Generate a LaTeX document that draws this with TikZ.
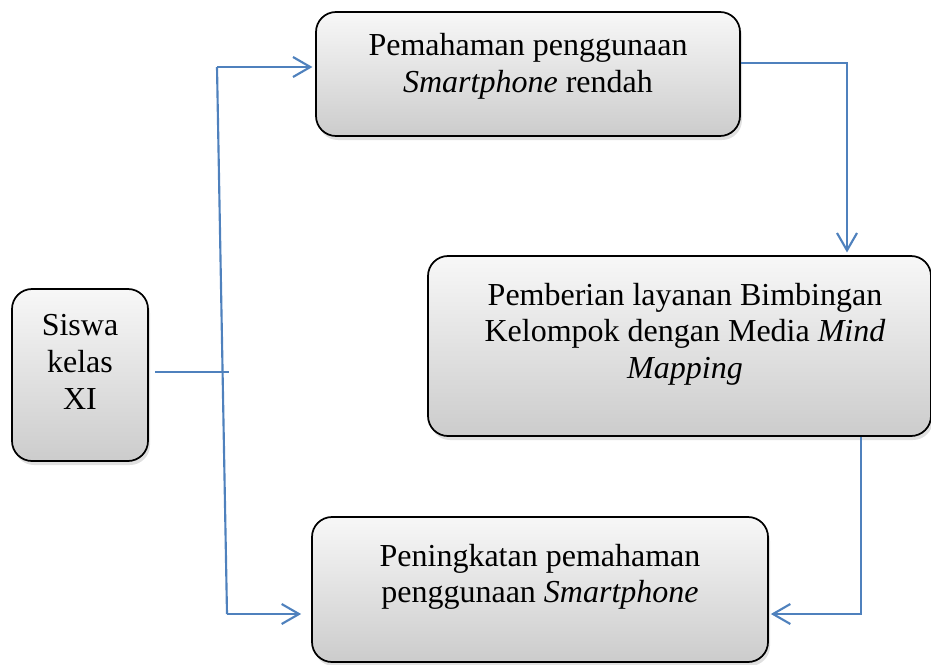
\documentclass[tikz,border=0pt]{standalone}
\usepackage{fontspec}
\setmainfont{Liberation Serif}
\usetikzlibrary{arrows.meta,shadows}
\definecolor{lineblue}{RGB}{79,129,189}
\tikzset{
  box/.style={draw=black, line width=1.3pt, rounded corners=15pt, inner sep=0pt,
    top color=gray!6, bottom color=gray!40,
    drop shadow={shadow xshift=1.5pt, shadow yshift=-3pt, opacity=0.35, fill=gray!70}},
  txt/.style={align=center, inner sep=0pt, font=\fontsize{24}{27.5}\selectfont},
  conn/.style={draw=lineblue, line width=1.6pt},
  arr/.style={conn, -{Straight Barb[length=13pt,width=15pt,line width=1.6pt]}}
}
\begin{document}
\begin{tikzpicture}[x=0.75pt,y=-0.75pt]
\useasboundingbox (0,0) rectangle (931,664);
\clip (0,0) rectangle (931,664);
% boxes
\node[box, minimum width=102pt, minimum height=129pt] (siswa) at (80,375) {};
\node[box, minimum width=318pt, minimum height=93pt] (top) at (528,74) {};
\node[box, minimum width=377.25pt, minimum height=135pt] (mid) at (679.5,346) {};
\node[box, minimum width=342pt, minimum height=108.75pt] (bot) at (540,589.5) {};
% texts
\node[txt] (tsiswa) at (80,362) {Siswa\\kelas\\XI};
\node[txt] (ttop) at (528,66) {Pemahaman penggunaan\\\textit{Smartphone} rendah};
\node[txt] (tmid) at (685,334) {Pemberian layanan Bimbingan\\Kelompok dengan Media \textit{Mind}\\\textit{Mapping}};
\node[txt] (tbot) at (540,577) {Peningkatan pemahaman\\penggunaan \textit{Smartphone}};
% connector coordinates
\coordinate (s0) at (155,372);
\coordinate (j) at (229,372);
\coordinate (b1) at (217,67);
\coordinate (b2) at (227,614);
\coordinate (c1) at (847,63);
\coordinate (c2) at (861,614);
% connectors
\draw[conn] (s0) -- (j);
\draw[conn] (b1) -- (b2);
\draw[arr] (b1) -- ([xshift=-2pt]b1 -| top.west);
\draw[arr] (b2) -- ([xshift=-7.5pt]b2 -| bot.west);
\draw[arr] (c1 -| top.east) -- (c1) -- ([yshift=2pt]c1 |- mid.north);
\draw[arr] (c2 |- mid.south) -- (c2) -- ([xshift=1.5pt]c2 -| bot.east);
\end{tikzpicture}
\end{document}
